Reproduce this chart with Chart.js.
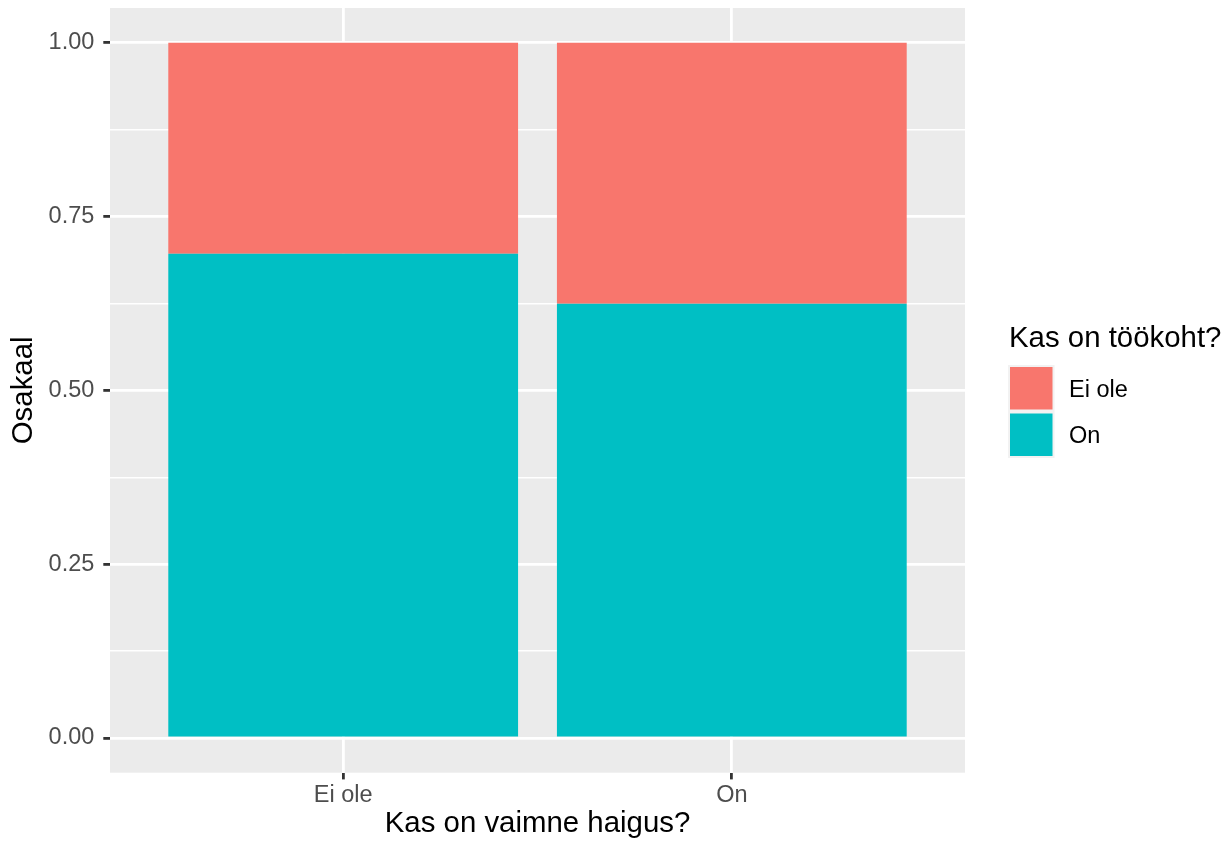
<!DOCTYPE html>
<html>
<head>
<meta charset="utf-8">
<script src="https://cdn.jsdelivr.net/npm/chart.js@4.4.1/dist/chart.umd.min.js"></script>
<style>
  body { margin: 0; background: #fff; }
  #chart { display: block; }
</style>
</head>
<body>
<canvas id="chart" width="1228" height="846"></canvas>
<script>
// categories on the x axis (Kas on vaimne haigus?)
const categories = ["Ei ole", "On"];
// share of each answer to "Kas on töökoht?" per category
const shareOn = [0.6965, 0.6246];
const shareEiOle = [0.3035, 0.3754];
// y axis breaks
const yBreaks = [0, 0.25, 0.5, 0.75, 1];

const FONT = "'Liberation Sans', Arial, Helvetica, sans-serif";

// minor breaks sit halfway between majors, like ggplot
const yMinor = yBreaks.slice(1).map((v, i) => (v + yBreaks[i]) / 2);
const yAll = yBreaks.concat(yMinor).sort((a, b) => a - b);
const isMajor = (v) => yBreaks.some((b) => Math.abs(b - v) < 1e-9);

//grey panel behind the bars
const panelBg = {
  id: "panelBg",
  beforeDraw: (chart) => {
    const { ctx, chartArea: a } = chart;
    ctx.save();
    ctx.fillStyle = "#fff";
    ctx.fillRect(0, 0, chart.width, chart.height);
    ctx.fillStyle = "#EBEBEB";
    ctx.fillRect(a.left, a.top, a.right - a.left, a.bottom - a.top);
    ctx.restore();
  },
};

//ggplot-style legend on the right
const sideLegend = {
  id: "sideLegend",
  afterDraw: (chart) => {
    const ctx = chart.ctx;
    const sets = chart.data.datasets.slice().reverse();
    const x = 1008;
    const top = 365;
    const key = 46.5;
    ctx.save();
    ctx.fillStyle = "#000";
    ctx.font = "29.4px " + FONT;
    ctx.textBaseline = "alphabetic";
    ctx.fillText("Kas on töökoht?", x + 1, 347);
    ctx.fillStyle = "#F2F2F2";
    ctx.fillRect(x, top, key, key * sets.length);
    sets.forEach((ds, i) => {
      const y = top + i * key;
      ctx.fillStyle = ds.backgroundColor;
      ctx.fillRect(x + 2, y + 2, key - 4, key - 4);
      ctx.fillStyle = "#000";
      ctx.font = "23.5px " + FONT;
      ctx.fillText(ds.label, x + 61, y + 31.8);
    });
    ctx.restore();
  },
};

new Chart(document.getElementById("chart"), {
  type: "bar",
  data: {
    datasets: [
      {
        label: "On",
        data: shareOn.map((v, i) => ({ x: i + 1, y: v })),
        backgroundColor: "#00BFC4",
      },
      {
        label: "Ei ole",
        data: shareEiOle.map((v, i) => ({ x: i + 1, y: v })),
        backgroundColor: "#F8766D",
      },
    ],
  },
  options: {
    responsive: false,
    animation: false,
    layout: { padding: { left: 0, top: 8, right: 263, bottom: 0 } },
    datasets: { bar: { categoryPercentage: 1, barPercentage: 0.9, borderWidth: 0 } },
    plugins: {
      legend: { display: false },
      tooltip: { enabled: false },
    },
    scales: {
      x: {
        type: "linear",
        stacked: true,
        offset: false,
        min: 0.4,
        max: categories.length + 0.6,
        afterBuildTicks: (scale) => {
          scale.ticks = categories.map((_, i) => ({ value: i + 1 }));
        },
        afterFit: (scale) => {
          scale.height = 73.3;
          scale.paddingLeft = 0;
          scale.paddingRight = 0;
        },
        border: { display: false },
        grid: {
          offset: false,
          color: "#FFFFFF",
          lineWidth: 2.8,
          drawTicks: true,
          tickLength: 6.7,
          tickWidth: 2.8,
          tickColor: "#333333",
        },
        ticks: {
          autoSkip: false,
          maxRotation: 0,
          padding: 4,
          color: "#4D4D4D",
          font: { family: FONT, size: 23.5, lineHeight: 1 },
          callback: (v) => categories[v - 1] || "",
        },
        title: {
          display: true,
          text: "Kas on vaimne haigus?",
          color: "#000",
          font: { family: FONT, size: 29.4, lineHeight: 1 },
          padding: { top: 0, bottom: 7.2 },
        },
      },
      y: {
        stacked: true,
        min: -0.05,
        max: 1.05,
        afterBuildTicks: (scale) => {
          scale.ticks = yAll.map((v) => ({ value: v }));
        },
        afterFit: (scale) => {
          scale.width = 110;
          scale.paddingTop = 0;
          scale.paddingBottom = 0;
        },
        border: { display: false },
        grid: {
          color: "#FFFFFF",
          lineWidth: (c) => (isMajor(c.tick.value) ? 2.8 : 1.4),
          drawTicks: true,
          tickLength: 6.7,
          tickWidth: 2.8,
          tickColor: (c) => (isMajor(c.tick.value) ? "#333333" : "rgba(0,0,0,0)"),
        },
        ticks: {
          autoSkip: false,
          padding: 9,
          color: "#4D4D4D",
          font: { family: FONT, size: 23.5 },
          callback: (v) => (isMajor(v) ? v.toFixed(2) : ""),
        },
        title: {
          display: true,
          text: "Osakaal",
          color: "#000",
          font: { family: FONT, size: 29.4, lineHeight: 1 },
          padding: { top: 9.6, bottom: 0 },
        },
      },
    },
  },
  plugins: [panelBg, sideLegend],
});
</script>
</body>
</html>
